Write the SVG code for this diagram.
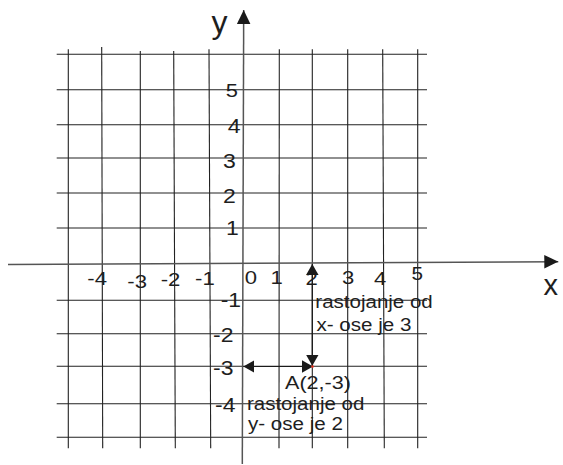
<svg xmlns="http://www.w3.org/2000/svg" width="563" height="465" viewBox="0 0 563 465">
<style>
.grid line{stroke:#222;stroke-width:1.1}
.axis{stroke:#555;stroke-width:1.5;fill:none}
.conn{stroke:#1a1a1a;stroke-width:1.2;fill:none}
text{font-family:"Liberation Sans",Arial,sans-serif;fill:#1e1e1e}
.xl{font-size:18.5px}
.yl{font-size:20px}
.t{font-size:17.5px}
</style>
<defs>
<marker id="axArrow" markerUnits="userSpaceOnUse" markerWidth="14" markerHeight="14" refX="14" refY="6.75" orient="auto">
<path d="M0,0 L14,6.75 L0,13.5 z" fill="#1a1a1a"/>
</marker>
<marker id="arr" markerUnits="userSpaceOnUse" markerWidth="11" markerHeight="13" refX="11" refY="6.25" orient="auto-start-reverse">
<path d="M0,0 L11,6.25 L0,12.5 z" fill="#1a1a1a"/>
</marker>
</defs>
<rect width="563" height="465" fill="#fff"/>
<g id="grid" class="grid">
<line x1="56.7" y1="54.3" x2="427" y2="54.3"/>
<line x1="56.7" y1="89.7" x2="427" y2="89.7"/>
<line x1="56.7" y1="124.7" x2="427" y2="124.7"/>
<line x1="56.7" y1="158" x2="427" y2="158"/>
<line x1="56.7" y1="193" x2="427" y2="193"/>
<line x1="56.7" y1="228" x2="427" y2="228"/>
<line x1="56.7" y1="300.3" x2="427" y2="300.3"/>
<line x1="56.7" y1="333.7" x2="427" y2="333.7"/>
<line x1="56.7" y1="366.3" x2="427" y2="366.3"/>
<line x1="56.7" y1="403.7" x2="427" y2="403.7"/>
<line x1="56.7" y1="437.3" x2="427" y2="437.3"/>
<line x1="68.3" y1="49.3" x2="68.3" y2="448.3"/>
<line x1="101.7" y1="47" x2="102.7" y2="448.3"/>
<line x1="140.3" y1="51" x2="140.3" y2="448.3"/>
<line x1="173.7" y1="51" x2="175.3" y2="448.3"/>
<line x1="209" y1="49.3" x2="210.7" y2="448.3"/>
<line x1="279.3" y1="49.3" x2="279" y2="448.3"/>
<line x1="312.3" y1="49.3" x2="312.3" y2="448.3"/>
<line x1="347.7" y1="49.3" x2="347.7" y2="448.3"/>
<line x1="382.7" y1="49.3" x2="384.3" y2="448.3"/>
<line x1="417.7" y1="49.3" x2="417.7" y2="448.3"/>
</g>
<g id="axes">
<line class="axis" x1="8" y1="264.5" x2="558.3" y2="261.7" marker-end="url(#axArrow)"/>
<line class="axis" x1="242.3" y1="464" x2="243.7" y2="10" marker-end="url(#axArrow)"/>
<text id="label-y" x="211.5" y="33.3" style="font-size:32px">y</text>
<text id="label-x" x="543.5" y="295" style="font-size:29px">x</text>
</g>
<g id="x-labels" class="xl">
<text x="87.3" y="285" textLength="19.7" lengthAdjust="spacingAndGlyphs">-4</text>
<text x="127.3" y="288" textLength="19.7" lengthAdjust="spacingAndGlyphs">-3</text>
<text x="160.7" y="285.5" textLength="19.7" lengthAdjust="spacingAndGlyphs">-2</text>
<text x="195" y="285" textLength="19.7" lengthAdjust="spacingAndGlyphs">-1</text>
<text x="244.7" y="283.5" textLength="12.3" lengthAdjust="spacingAndGlyphs">0</text>
<text x="270.5" y="284" textLength="12.3" lengthAdjust="spacingAndGlyphs">1</text>
<text x="305.5" y="285" textLength="12.3" lengthAdjust="spacingAndGlyphs">2</text>
<text x="342" y="283.5" textLength="12.3" lengthAdjust="spacingAndGlyphs">3</text>
<text x="374" y="285" textLength="12.3" lengthAdjust="spacingAndGlyphs">4</text>
<text x="411.5" y="280" style="font-size:17.5px" textLength="11.5" lengthAdjust="spacingAndGlyphs">5</text>
</g>
<g id="y-labels" class="yl">
<text x="225.7" y="96.7" style="font-size:19px" textLength="12.2" lengthAdjust="spacingAndGlyphs">5</text>
<text x="227.7" y="133.3" textLength="12.8" lengthAdjust="spacingAndGlyphs">4</text>
<text x="223" y="168.3" textLength="12.8" lengthAdjust="spacingAndGlyphs">3</text>
<text x="223" y="202.7" textLength="12.8" lengthAdjust="spacingAndGlyphs">2</text>
<text x="226" y="235" textLength="12.8" lengthAdjust="spacingAndGlyphs">1</text>
<text x="220.7" y="307.3" textLength="20.4" lengthAdjust="spacingAndGlyphs">-1</text>
<text x="213" y="341.7" textLength="20.4" lengthAdjust="spacingAndGlyphs">-2</text>
<text x="213" y="375" textLength="20.4" lengthAdjust="spacingAndGlyphs">-3</text>
<text x="215" y="411.7" textLength="20.4" lengthAdjust="spacingAndGlyphs">-4</text>
</g>
<g id="connectors">
<line class="conn" x1="312.3" y1="264" x2="312.3" y2="365.8" marker-start="url(#arr)" marker-end="url(#arr)"/>
<line class="conn" x1="243.3" y1="366.5" x2="313" y2="366.5" marker-start="url(#arr)" marker-end="url(#arr)"/>
</g>
<g id="point-A">
<circle cx="312.5" cy="366.6" r="1.3" fill="#e0301e"/>
<text x="285" y="389" style="font-size:18.5px" textLength="66" lengthAdjust="spacingAndGlyphs">A(2,-3)</text>
</g>
<g id="note-x" class="t">
<text x="315.3" y="307.5" textLength="117.5" lengthAdjust="spacingAndGlyphs">rastojanje od</text>
<text x="316.5" y="331" textLength="95" lengthAdjust="spacingAndGlyphs">x- ose je 3</text>
</g>
<g id="note-y" class="t">
<text x="246.9" y="410" textLength="117.5" lengthAdjust="spacingAndGlyphs">rastojanje od</text>
<text x="248" y="430" textLength="95" lengthAdjust="spacingAndGlyphs">y- ose je 2</text>
</g>
</svg>
